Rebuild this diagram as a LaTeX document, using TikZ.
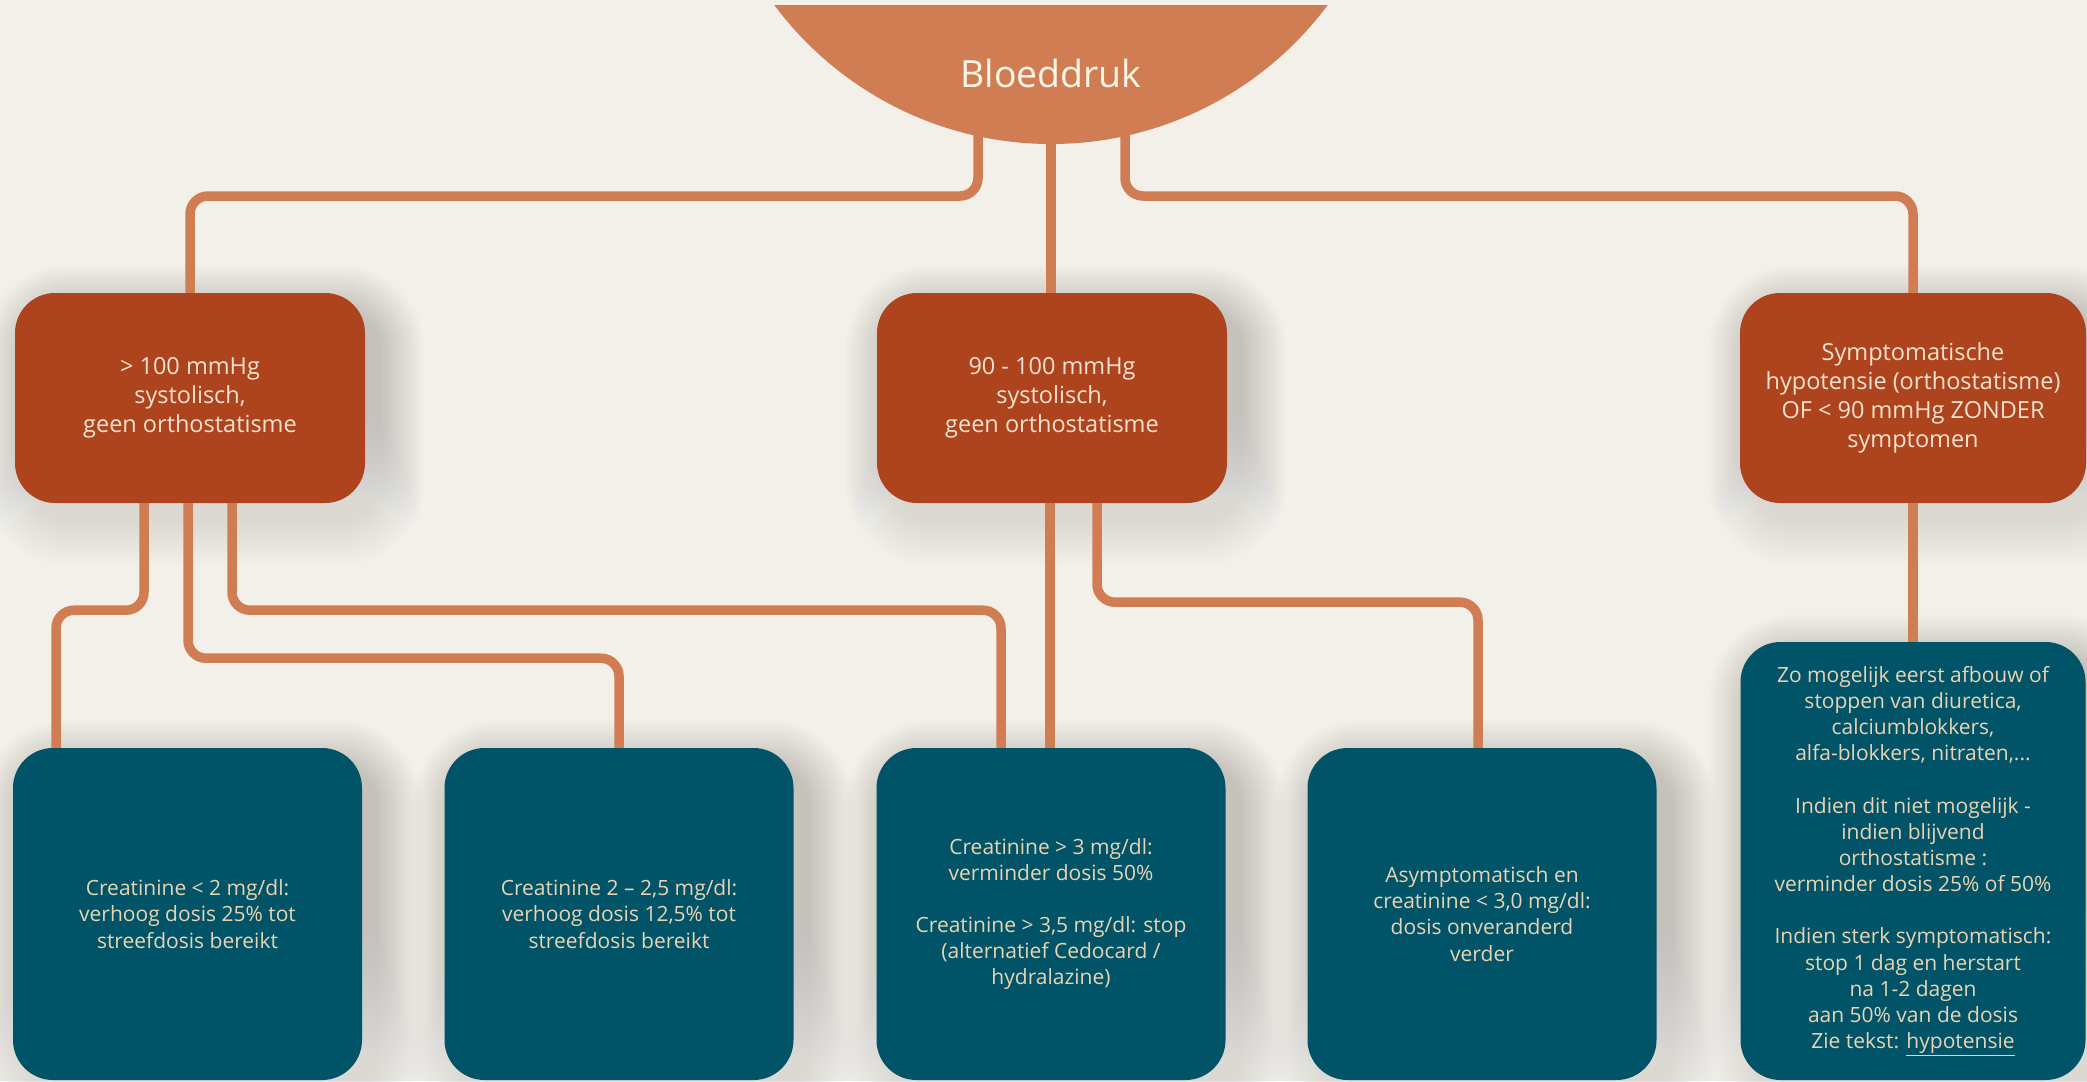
\documentclass[tikz,border=0pt]{standalone}
\usepackage{fontspec}
\setmainfont{Open Sans}
\definecolor{bgcream}{RGB}{243,240,234}
\definecolor{clay}{RGB}{208,125,83}
\definecolor{rust}{RGB}{173,68,30}
\definecolor{petrol}{RGB}{1,83,103}
\definecolor{peach}{RGB}{246,226,206}
\definecolor{sand}{RGB}{232,212,178}
\definecolor{titlecream}{RGB}{255,246,232}
\definecolor{shade}{RGB}{95,80,65}
\pgfdeclarelayer{back}
\pgfsetlayers{back,main}
\begin{document}
\begin{tikzpicture}[x=1pt,y=-1pt,
  conn/.style={draw=clay,line width=9.5pt,rounded corners=18pt},
  rustbox/.style={fill=rust,rounded corners=40pt,minimum width=350pt,minimum height=210pt,
    text=peach,align=center,inner sep=0pt,font=\fontsize{23.5}{29}\selectfont},
  petrolbox/.style={fill=petrol,rounded corners=40pt,minimum width=349pt,minimum height=332pt,
    text=sand,align=center,inner sep=0pt,font=\fontsize{21}{26.2}\selectfont,
    execute at begin node={\rule{0pt}{28pt}}}]
% canvas
\begin{pgfonlayer}{back}
  \fill[bgcream] (0,0) rectangle (2087,1081);
\end{pgfonlayer}
\useasboundingbox (0,0) rectangle (2087,1081);

% top half-disc with the title
\begin{scope}
  \clip (0,6) rectangle (2087,200);
  \fill[clay] (1051,-201) circle[radius=345pt];
\end{scope}
\node[anchor=base,text=titlecream,font=\fontsize{37.4}{44}\selectfont] (root) at (1051,88) {Bloeddruk};
\coordinate (rb) at (1051,125);

% first level
\node[rustbox] (o1) at (190,398) {> 100 mmHg\\systolisch,\\geen orthostatisme};
\node[rustbox] (o2) at (1052,398) {90 - 100 mmHg\\systolisch,\\geen orthostatisme};
\node[rustbox,minimum width=346pt] (o3) at (1913,398) {Symptomatische\\hypotensie (orthostatisme)\\OF < 90 mmHg ZONDER\\symptomen};

% second level
\node[petrolbox] (t1) at (187.5,914) {Creatinine < 2 mg/dl:\\verhoog dosis 25\% tot\\streefdosis bereikt};
\node[petrolbox] (t2) at (619,914) {Creatinine 2 – 2,5 mg/dl:\\verhoog dosis 12,5\% tot\\streefdosis bereikt};
\node[petrolbox] (t3) at (1051,914) {Creatinine > 3 mg/dl:\\verminder dosis 50\%\\[26pt]Creatinine > 3,5 mg/dl: stop\\(alternatief Cedocard /\\hydralazine)};
\node[petrolbox] (t4) at (1482,914) {Asymptomatisch en\\creatinine < 3,0 mg/dl:\\dosis onveranderd\\verder};
\node[petrolbox,minimum width=345pt,minimum height=438pt] (t5) at (1913,861) {Zo mogelijk eerst afbouw of\\stoppen van diuretica,\\calciumblokkers,\\alfa-blokkers, nitraten,...\\[26pt]Indien dit niet mogelijk -\\indien blijvend\\orthostatisme :\\verminder dosis 25\% of 50\%\\[26pt]Indien sterk symptomatisch:\\stop 1 dag en herstart\\na 1-2 dagen\\aan 50\% van de dosis\\Zie tekst: \underline{hypotensie}};

% soft drop shadows: stacked, growing, faint rounded rectangles behind each box
\begin{pgfonlayer}{back}
  \foreach \n in {o1,o2,o3,t1,t2,t3,t4,t5}{
    \foreach \k in {2,4,...,46}{
      \pgfmathsetmacro\rr{40+\k}
      \fill[shade,opacity=0.0045,rounded corners=\rr pt]
        ([shift={(14-\k,18-\k)}]\n.north west) rectangle ([shift={(14+\k,18+\k)}]\n.south east);
    }
  }
\end{pgfonlayer}

% connectors from the title
\draw[conn] ([xshift=-73pt]rb) -- ++(0,71) -| (o1.north);
\draw[conn] (rb) -- (rb |- o2.north);
\draw[conn] ([xshift=74pt]rb) -- ++(0,71) -| (o3.north);

% connectors from the first level
\draw[conn] ([xshift=-46pt]o1.south) -- ++(0,107) -| ([xshift=-131.5pt]t1.north);
\draw[conn] ([xshift=-2pt]o1.south) -- ++(0,155) -| (t2.north);
\draw[conn] ([xshift=42pt]o1.south) -- ++(0,107) -| ([xshift=-50pt]t3.north);
\draw[conn] ([xshift=-2pt]o2.south) -- ([xshift=-1pt]t3.north);
\draw[conn] ([xshift=45pt]o2.south) -- ++(0,99) -| ([xshift=-4pt]t4.north);
\draw[conn] (o3.south) -- (t5.north);
\end{tikzpicture}
\end{document}
